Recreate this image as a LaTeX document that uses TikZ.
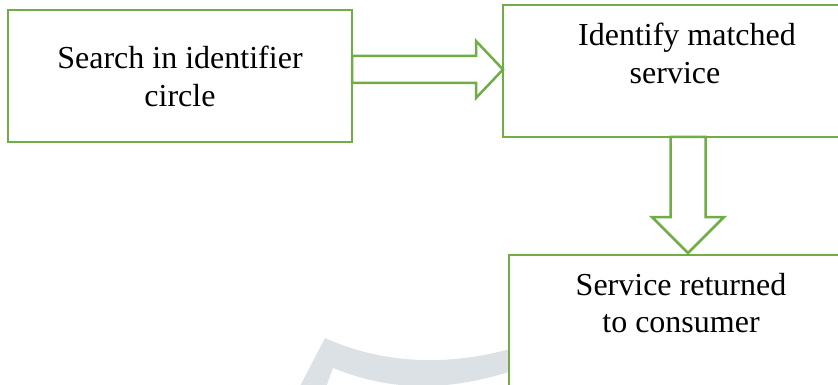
\documentclass[tikz,border=0pt]{standalone}
\usepackage{fontspec}
\setmainfont{Liberation Serif}
\usetikzlibrary{calc,positioning}
\definecolor{boxgreen}{HTML}{70AD47}
\definecolor{markgrey}{HTML}{DCE1E5}
\tikzset{
  stage/.style={rectangle,draw=boxgreen,line width=2.5pt,fill=white,
    minimum width=344pt,minimum height=132pt,inner sep=0pt,outer sep=0pt},
  stagetext/.style={font=\fontsize{32}{37.5}\selectfont,align=center,
    inner sep=0pt,anchor=north},
  blockarrow/.style={draw=boxgreen,line width=2.5pt,fill=white,line join=miter}
}

\begin{document}
\begin{tikzpicture}[x=1pt,y=-1pt]
  \useasboundingbox (0,0) rectangle (838,385);
  \clip (0,0) rectangle (838,385);
  % watermark
  \fill [markgrey]
    (298,390)
    -- (325,338)
    .. controls (385,365) and (455,368) .. (530,343)
    -- (530,365)
    .. controls (460,390) and (400,395) .. (333,368)
    -- (325,390)
    -- cycle
  ;
  % boxes
  \node [stage] (search) at (180,76) {};
  \node [stage] (identify) at (675,71) {};
  \node [stage] (result) at (681,321) {};
  % texts
  \node [stagetext, below=36pt of search.north]
    (search text) {Search in identifier\\circle}
  ;
  \node [stagetext, below=18pt of identify.north]
    (identify text) {\hspace*{24pt}Identify matched\\service}
  ;
  \node [stagetext, below=18pt of result.north]
    (result text) {Service returned\\to consumer}
  ;
  % arrow search -> identify
  \coordinate (h tip) at ($(identify.west)+(0,-1.5)$);
  \draw [blockarrow]
    ($(search.east |- h tip)+(0,-13.5)$)
    -- ($(h tip)+(-27,-13.5)$)
    -- ($(h tip)+(-27,-28.5)$)
    -- (h tip)
    -- ($(h tip)+(-27,28.5)$)
    -- ($(h tip)+(-27,13.5)$)
    -- ($(search.east |- h tip)+(0,13.5)$)
    -- cycle
  ;
  % arrow identify -> result
  \coordinate (v tip) at ($(result.north)+(7,-2)$);
  \draw [blockarrow]
    ($(v tip |- identify.south)+(-17.5,0)$)
    -- ($(v tip)+(-17.5,-36)$)
    -- ($(v tip)+(-36,-36)$)
    -- (v tip)
    -- ($(v tip)+(36,-36)$)
    -- ($(v tip)+(17.5,-36)$)
    -- ($(v tip |- identify.south)+(17.5,0)$)
    -- cycle
  ;
\end{tikzpicture}
\end{document}
